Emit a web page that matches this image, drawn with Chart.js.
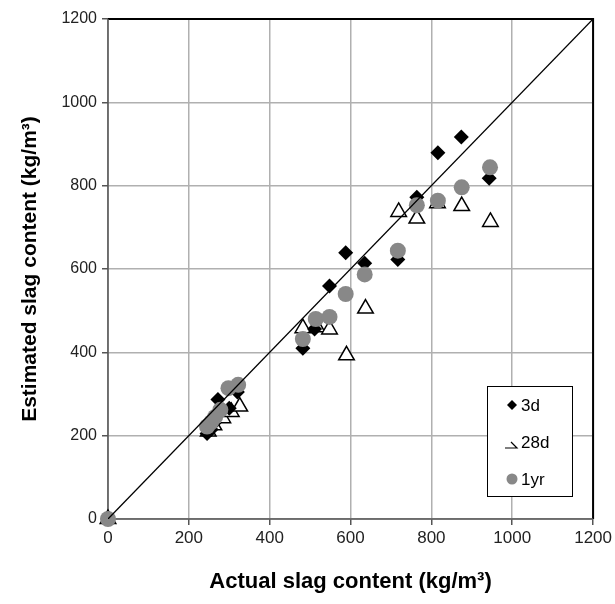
<!DOCTYPE html>
<html>
<head>
<meta charset="utf-8">
<script src="https://cdn.jsdelivr.net/npm/chart.js@4.4.1/dist/chart.umd.min.js"></script>
<style>
  html, body { margin: 0; padding: 0; background: #fff; }
  #wrap { width: 615px; height: 604px; }
</style>
</head>
<body>
<div id="wrap"><canvas id="myChart" width="615" height="604"></canvas></div>
<script>
// actual vs estimated slag content, kg/m3
const x3d = [0, 245, 255, 262, 272, 300, 320, 482, 511, 548, 588, 635, 717, 764, 816, 874, 943]
const y3d = [0, 205, 215, 230, 287, 266, 305, 410, 456, 559, 639, 614, 623, 772, 879, 917, 818]

const x28d = [0, 248, 262, 284, 305, 326, 482, 517, 548, 590, 637, 719, 764, 815, 875, 946]
const y28d = [0, 210, 225, 242, 257, 270, 458, 460, 455, 393, 505, 737, 721, 758, 751, 713]

const x1yr = [0, 245, 255, 265, 278, 298, 322, 482, 514, 548, 588, 635, 717, 764, 816, 875, 945]
const y1yr = [0, 222, 232, 245, 262, 314, 322, 432, 480, 485, 540, 587, 644, 753, 764, 796, 844]

const seriesNames = ['3d', '28d', '1yr']
const axisTicks = [0, 200, 400, 600, 800, 1000, 1200]

const pts = (xs, ys) => xs.map((v, i) => ({x: v, y: ys[i]}))

const FONT = "'Liberation Sans', Arial, sans-serif"

// frame: black top/right, darker gray axes left/bottom
const framePlugin = {
  id: 'frame',
  beforeDatasetsDraw(chart) {
    const {ctx, chartArea: a} = chart
    ctx.save()
    ctx.strokeStyle = '#000'
    ctx.lineWidth = 2
    ctx.beginPath()
    ctx.moveTo(a.left, a.top)
    ctx.lineTo(a.right, a.top)
    ctx.lineTo(a.right, a.bottom)
    ctx.stroke()
    ctx.strokeStyle = '#555'
    ctx.lineWidth = 1.5
    ctx.beginPath()
    ctx.moveTo(a.left, a.top)
    ctx.lineTo(a.left, a.bottom)
    ctx.lineTo(a.right, a.bottom)
    ctx.stroke()
    ctx.restore()
  }
}

// boxed legend in the lower right corner of the plot
const boxLegend = {
  id: 'boxLegend',
  afterDraw(chart) {
    const {ctx} = chart
    const left = 487, top = 386, w = 85, h = 110
    ctx.save()
    ctx.fillStyle = '#fff'
    ctx.fillRect(left, top, w, h)
    ctx.strokeStyle = '#000'
    ctx.lineWidth = 1
    ctx.strokeRect(left + 0.5, top + 0.5, w, h)
    ctx.font = '17px ' + FONT
    ctx.textBaseline = 'middle'
    ctx.fillStyle = '#000'
    const rows = [405, 442, 479]
    seriesNames.forEach((name, i) => {
      const y = rows[i], mx = 512
      if (i === 0) {
        ctx.beginPath()
        ctx.moveTo(mx, y - 5); ctx.lineTo(mx + 5, y); ctx.lineTo(mx, y + 5); ctx.lineTo(mx - 5, y)
        ctx.closePath()
        ctx.fillStyle = '#000'
        ctx.fill()
      } else if (i === 1) {
        ctx.beginPath()
        ctx.moveTo(mx - 7, y + 6); ctx.lineTo(mx + 5, y + 6); ctx.lineTo(mx - 1, y)
        ctx.strokeStyle = '#000'
        ctx.lineWidth = 1.2
        ctx.stroke()
      } else {
        ctx.beginPath()
        ctx.arc(mx, y, 5.5, 0, Math.PI * 2)
        ctx.fillStyle = '#888'
        ctx.fill()
      }
      ctx.fillStyle = '#000'
      ctx.fillText(name, 521, y + 1)
    })
    ctx.restore()
  }
}

const ctx = document.getElementById('myChart')

new Chart(ctx, {
  type: 'scatter',
  data: {
    datasets: [
      {
        type: 'line',
        label: 'line',
        data: [{x: 0, y: 0}, {x: 1200, y: 1200}],
        borderColor: '#000',
        borderWidth: 1.3,
        pointRadius: 0,
        order: 0
      },
      {
        label: seriesNames[0],
        data: pts(x3d, y3d),
        pointStyle: 'rectRot',
        pointRadius: 7.5,
        backgroundColor: '#000',
        borderColor: '#000',
        borderWidth: 0,
        clip: false,
        order: 2
      },
      {
        label: seriesNames[1],
        data: pts(x28d, y28d),
        pointStyle: 'triangle',
        pointRadius: 9,
        backgroundColor: '#fff',
        borderColor: '#000',
        borderWidth: 1.5,
        clip: false,
        order: 3
      },
      {
        label: seriesNames[2],
        data: pts(x1yr, y1yr),
        pointStyle: 'circle',
        pointRadius: 8,
        backgroundColor: '#888',
        borderColor: '#888',
        borderWidth: 0,
        clip: false,
        order: 1
      }
    ]
  },
  options: {
    responsive: false,
    animation: false,
    events: [],
    layout: { padding: { left: 0, right: 18, top: 19, bottom: 0 } },
    plugins: {
      legend: { display: false },
      tooltip: { enabled: false }
    },
    scales: {
      x: {
        type: 'linear',
        min: 0,
        max: 1200,
        afterBuildTicks(scale) { scale.ticks = axisTicks.map(v => ({value: v})) },
        afterFit(scale) { scale.height = 85 },
        border: { display: false },
        grid: {
          color: '#b0b0b0',
          lineWidth: 1.5,
          tickColor: '#555',
          tickLength: 6,
          drawOnChartArea: true
        },
        ticks: {
          color: '#222',
          font: { family: FONT, size: 17 },
          padding: 3,
          maxRotation: 0,
          callback: v => String(v)
        },
        title: {
          display: true,
          text: 'Actual slag content (kg/m³)',
          color: '#000',
          font: { family: FONT, size: 22, weight: 'bold' },
          padding: { top: 0, bottom: 9 }
        }
      },
      y: {
        type: 'linear',
        min: 0,
        max: 1200,
        afterBuildTicks(scale) { scale.ticks = axisTicks.map(v => ({value: v})) },
        afterFit(scale) { scale.width = 108 },
        border: { display: false },
        grid: {
          color: '#b0b0b0',
          lineWidth: 1.5,
          tickColor: '#555',
          tickLength: 6,
          drawOnChartArea: true
        },
        ticks: {
          color: '#222',
          font: { family: FONT, size: 16 },
          padding: 5,
          callback: v => String(v)
        },
        title: {
          display: true,
          text: 'Estimated slag content (kg/m³)',
          color: '#000',
          font: { family: FONT, size: 21, weight: 'bold' },
          padding: { top: 18, bottom: 0 }
        }
      }
    }
  },
  plugins: [framePlugin, boxLegend]
})
</script>
</body>
</html>
